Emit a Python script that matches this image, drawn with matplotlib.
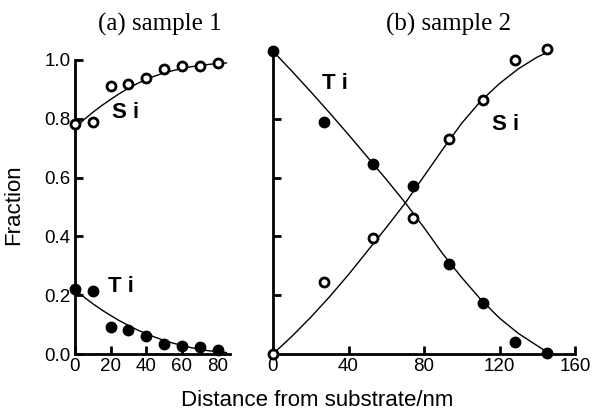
import matplotlib
matplotlib.use("Agg")
import matplotlib.pyplot as plt

# ---- data: sample 1 ----
s1_x = [0, 10, 20, 30, 40, 50, 60, 70, 80]
s1_si = [0.782, 0.79, 0.91, 0.92, 0.94, 0.97, 0.98, 0.98, 0.99]
s1_ti = [0.22, 0.215, 0.092, 0.082, 0.061, 0.034, 0.027, 0.024, 0.014]
s1_curve_x = [0, 5, 10, 15, 20, 25, 30, 35, 40, 45, 50, 55, 60, 65, 70, 75, 80, 85]
s1_si_curve = [0.77, 0.797, 0.822, 0.845, 0.866, 0.886, 0.904, 0.92, 0.934, 0.946, 0.956, 0.964, 0.971, 0.977, 0.981, 0.985, 0.988, 0.99]
s1_ti_curve = [0.22, 0.194, 0.171, 0.15, 0.131, 0.113, 0.097, 0.082, 0.069, 0.057, 0.046, 0.037, 0.029, 0.022, 0.016, 0.011, 0.008, 0.005]

# ---- data: sample 2 ----
s2_x = [0, 27, 53, 74, 93, 111, 128, 145]
s2_ti = [1.03, 0.79, 0.646, 0.571, 0.306, 0.175, 0.04, 0.003]
s2_si = [0.0, 0.245, 0.395, 0.462, 0.73, 0.864, 1.0, 1.037]
s2_ti_curve_x = [0, 10, 20, 30, 40, 50, 60, 70, 80, 90, 100, 110, 120, 130, 140, 147]
s2_ti_curve = [1.03, 0.962, 0.892, 0.82, 0.746, 0.67, 0.594, 0.515, 0.43, 0.34, 0.26, 0.186, 0.122, 0.07, 0.028, 0.0]
s2_si_curve_x = [0, 10, 20, 30, 40, 50, 60, 70, 80, 90, 100, 110, 120, 130, 140, 150, 158]
s2_si_curve = [0.0, 0.06, 0.125, 0.195, 0.27, 0.35, 0.43, 0.513, 0.605, 0.697, 0.785, 0.86, 0.92, 0.97, 1.01, 1.04, 1.058]

s1_xticks = [0, 20, 40, 60, 80]
s2_xticks = [0, 40, 80, 120, 160]
yticks = [0.0, 0.2, 0.4, 0.6, 0.8, 1.0]

W, H = 594, 419
fig = plt.figure(figsize=(W / 100, H / 100), dpi=100)

sans = "Liberation Sans"
serif = "Liberation Serif"

ymax = 1.035
y0_px, y1_px = 354, 354 - ymax * 294
axL = fig.add_axes([75 / W, (H - y0_px) / H, 155 / W, (y0_px - y1_px) / H])
axR = fig.add_axes([273 / W, (H - y0_px) / H, 302 / W, (y0_px - y1_px) / H])

for ax in (axL, axR):
    ax.set_ylim(0, ymax)
    for s in ("top", "right"):
        ax.spines[s].set_visible(False)
    for s in ("left", "bottom"):
        ax.spines[s].set_linewidth(2.0)
    ax.tick_params(direction="in", length=6, width=2.0, labelsize=13.5, pad=3)

line_kw = dict(color="black", lw=1.0, zorder=2, solid_joinstyle="round")
fill_kw = dict(ls="none", marker="o", ms=7.5, mfc="black", mec="black", clip_on=False, zorder=3)
open_kw = dict(ls="none", marker="o", ms=6.5, mfc="white", mec="black", mew=2.0, clip_on=False, zorder=3)
lab_kw = dict(fontfamily=sans, fontweight="bold", fontsize=16, va="center", ha="left")

# left panel
axL.set_xlim(0, 87)
axL.spines["left"].set_bounds(0, 1.0)
axL.plot(s1_curve_x, s1_si_curve, **line_kw)
axL.plot(s1_curve_x, s1_ti_curve, **line_kw)
axL.plot(s1_x, s1_si, **open_kw)
axL.plot(s1_x, s1_ti, **fill_kw)
axL.set_xticks(s1_xticks)
axL.set_yticks(yticks)
axL.set_yticklabels([f"{v:.1f}" for v in yticks], fontfamily=sans)
axL.set_xticklabels([str(v) for v in s1_xticks], fontfamily=sans)
axL.text(21, 0.82, "S i", **lab_kw)
axL.text(18.5, 0.23, "T i", **lab_kw)

# right panel
axR.set_xlim(0, 160)
axR.plot(s2_ti_curve_x, s2_ti_curve, **line_kw)
axR.plot(s2_si_curve_x, s2_si_curve, **line_kw)
axR.plot(s2_x, s2_si, **open_kw)
axR.plot(s2_x, s2_ti, **fill_kw)
axR.set_xticks(s2_xticks)
axR.set_xticklabels([str(v) for v in s2_xticks], fontfamily=sans)
axR.set_yticks([0.2, 0.4, 0.6, 0.8])
axR.set_yticklabels([])
axR.text(26, 0.92, "T i", **lab_kw)
axR.text(116, 0.78, "S i", **lab_kw)

# titles and labels
fig.text(160 / W, 1 - 24 / H, "(a) sample 1", fontfamily=serif, fontsize=18, ha="center", va="center")
fig.text(449 / W, 1 - 24 / H, "(b) sample 2", fontfamily=serif, fontsize=18, ha="center", va="center")
fig.text(14 / W, 1 - 205 / H, "Fraction", fontfamily=sans, fontsize=16, rotation=90, ha="center", va="center")
fig.text(317 / W, 1 - 400 / H, "Distance from substrate/nm", fontfamily=sans, fontsize=16, ha="center", va="center")

fig.savefig("out.png", dpi=100)
